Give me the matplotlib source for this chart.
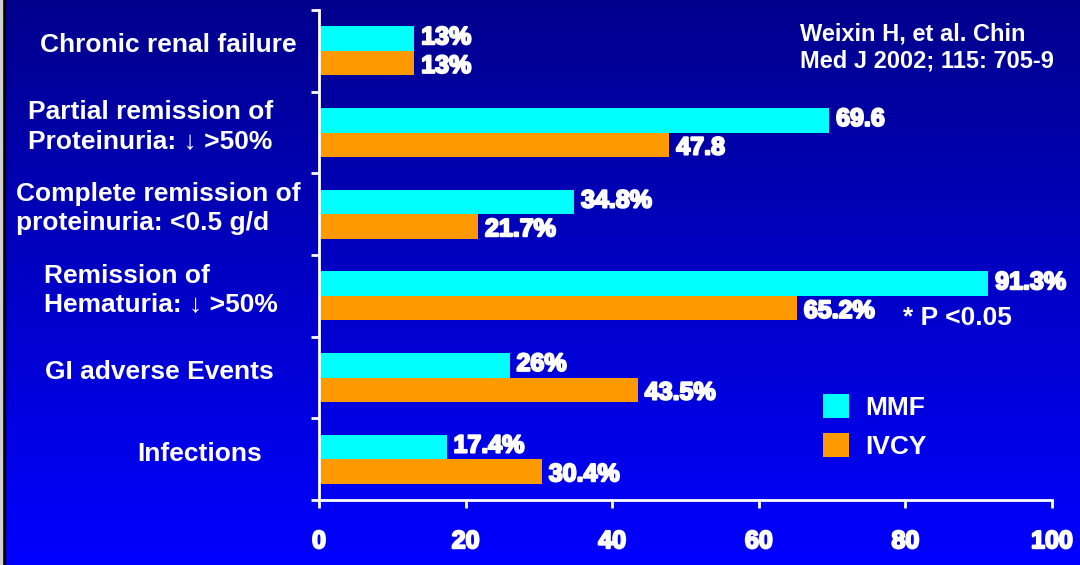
import numpy as np
import matplotlib.pyplot as plt
import matplotlib.patheffects as pe
from matplotlib.patches import Rectangle, Patch

plt.rcParams['font.family'] = ['Liberation Sans', 'DejaVu Sans']

categories = ['Chronic renal failure',
              'Partial remission of\nProteinuria: \u2193 >50%',
              'Complete remission of\nproteinuria: <0.5 g/d',
              'Remission of\nHematuria: \u2193 >50%',
              'GI adverse Events',
              'Infections']
mmf = [13, 69.6, 34.8, 91.3, 26, 17.4]
ivcy = [13, 47.8, 21.7, 65.2, 43.5, 30.4]
pct = [True, False, True, True, True, True]
series_names = ['MMF', 'IVCY']

# left edge (in pixels) of each category label block
label_left = [40, 28, 16, 44, 45, 137]

W, H = 1080, 565
CYAN = '#00FFFF'
ORANGE = '#FF9900'

fig = plt.figure(figsize=(W / 100, H / 100), dpi=100)

# blue gradient backdrop, darker at top
bg = fig.add_axes([0, 0, 1, 1], zorder=-10)
grad = np.linspace(0, 1, 256).reshape(-1, 1)
top = np.array([0.0, 0.0, 0.55])
bot = np.array([0.0, 0.0, 1.0])
img = top + (bot - top) * grad[..., None]
bg.imshow(img, aspect='auto', extent=[0, 1, 0, 1], origin='upper')
bg.set_axis_off()
fig.patches.append(Rectangle((2 / W, 0), 3 / W, 1, transform=fig.transFigure,
                             color='black', zorder=-5))
fig.patches.append(Rectangle((0, 0), 1.5 / W, 1, transform=fig.transFigure,
                             color='#d0d0d0', zorder=-5))

ax = fig.add_axes([319 / W, 65 / H, 733 / W, 490 / H])
ax.set_facecolor('none')

y = np.arange(len(categories))
h = 0.3
ax.barh(y - h / 2, mmf, h, color=CYAN, label=series_names[0])
ax.barh(y + h / 2, ivcy, h, color=ORANGE, label=series_names[1])

ax.set_xlim(0, 100)
ax.set_ylim(len(categories) - 0.5, -0.5)

for s in ['top', 'right']:
    ax.spines[s].set_visible(False)
for s in ['left', 'bottom']:
    ax.spines[s].set_color('white')
    ax.spines[s].set_linewidth(2)

ax.set_yticks(np.arange(-0.5, len(categories), 1.0))
ax.set_yticklabels([])
ax.set_xticks(range(0, 101, 20))
ax.tick_params(colors='white', width=2, length=6, direction='out')
ax.tick_params(axis='x', pad=15, labelsize=18, labelcolor='white')
heavy = [pe.withStroke(linewidth=1.5, foreground='white')]
for lbl in ax.get_xticklabels():
    lbl.set_fontweight('bold')
    lbl.set_path_effects(heavy)

# value labels at bar ends
for i in range(len(categories)):
    for vals, dy in ((mmf, -h / 2), (ivcy, h / 2)):
        v = vals[i]
        txt = f'{v:g}%' if pct[i] else f'{v:g}'
        ax.annotate(txt, (v, i + dy), xytext=(5, 1 if dy < 0 else -2),
                    textcoords='offset points', va='center', ha='left',
                    fontsize=18, fontweight='bold', color='white',
                    path_effects=heavy)

# category labels on the left
for i, name in enumerate(categories):
    ax.annotate(name, (label_left[i] / W, i), xycoords=('figure fraction', 'data'),
                xytext=(0, 4), textcoords='offset points',
                ha='left', va='center', multialignment='left',
                fontsize=19, fontweight='bold', color='white', linespacing=1.27)

fig.text(800 / W, 1 - 22 / H, 'Weixin H, et al. Chin\nMed J 2002; 115: 705-9',
         ha='left', va='top', fontsize=17, fontweight='bold', color='white',
         linespacing=1.25)
fig.text(903 / W, 1 - 318 / H, '* P <0.05', ha='left', va='center',
         fontsize=19, fontweight='bold', color='white')

handles = [Patch(facecolor=CYAN), Patch(facecolor=ORANGE)]
leg = fig.legend(handles, series_names, loc='upper left',
                 bbox_to_anchor=(823 / W, 1 - 394 / H), frameon=False,
                 borderpad=0, borderaxespad=0, handlelength=1.0,
                 handleheight=1.0, handletextpad=0.6, labelspacing=0.5,
                 prop={'size': 19, 'weight': 'bold'})
for t in leg.get_texts():
    t.set_color('white')

fig.savefig('out.png', dpi=100)
